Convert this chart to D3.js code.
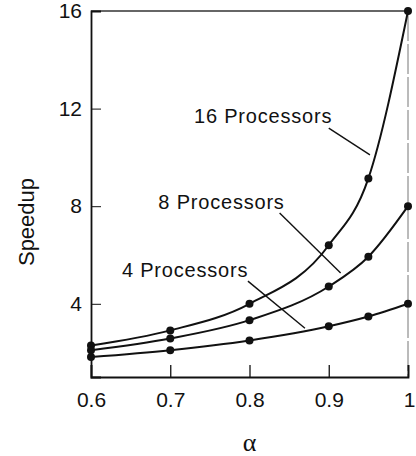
<!DOCTYPE html>
<html>
<head>
<meta charset="utf-8">
<script src="https://cdn.jsdelivr.net/npm/d3@7"></script>
<style>
  body { margin: 0; background: #fff; }
  text { font-family: "Liberation Sans", Arial, sans-serif; fill: #111; }
</style>
</head>
<body>
<svg id="chart" width="416" height="456"></svg>
<script>
// values
var alphas = [0.6, 0.7, 0.8, 0.9, 0.95, 1.0];
var speedup16 = [2.29, 2.91, 4.0, 6.4, 9.14, 16.0];
var speedup8 = [2.1, 2.58, 3.33, 4.71, 5.93, 8.0];
var speedup4 = [1.82, 2.1, 2.5, 3.08, 3.48, 4.0];
var seriesNames = ["16 Processors", "8 Processors", "4 Processors"];
var xTicks = [0.6, 0.7, 0.8, 0.9, 1];
var yTicks = [4, 8, 12, 16];
// label anchor [alpha, speedup] and leader line [[a0,s0],[a1,s1]]
var labelAt = [[0.730, 11.41], [0.685, 7.89], [0.639, 5.10]];
var leaders = [
  [[0.900, 11.2], [0.952, 10.1]],
  [[0.838, 7.72], [0.915, 5.26]],
  [[0.798, 4.93], [0.870, 3.0]]
];

var svg = d3.select("#chart");
var pLeft = 91, pRight = 408, pTop = 11, pBottom = 377;

var x = d3.scaleLinear().domain([0.6, 1]).range([pLeft, pRight]);
var y = d3.scaleLinear().domain([1, 16]).range([pBottom, pTop]);

var series = [speedup16, speedup8, speedup4].map(function(vals, i) {
  return { name: seriesNames[i], points: alphas.map(function(a, j) { return [a, vals[j]]; }) };
});

// frame: top and right are faint in the scan
svg.append("line").attr("x1", pLeft).attr("x2", pRight).attr("y1", pTop).attr("y2", pTop)
  .attr("stroke", "#333").attr("stroke-width", 1.3);
svg.append("line").attr("x1", pRight).attr("x2", pRight).attr("y1", pTop).attr("y2", pBottom)
  .attr("stroke", "#777").attr("stroke-width", 1).attr("stroke-dasharray", "30,3");

// axes with inward ticks
var xAxis = svg.append("g").attr("transform", "translate(0," + pBottom + ")")
  .call(d3.axisTop(x).tickValues(xTicks).tickSize(12).tickFormat(function(d) { return d === 1 ? "1" : d3.format(".1f")(d); }));
xAxis.select(".domain").attr("stroke", "#111").attr("stroke-width", 1.8);
xAxis.selectAll(".tick line").attr("stroke", "#111").attr("stroke-width", 1.3);
xAxis.selectAll(".tick text").attr("y", 30).attr("dy", 0)
  .style("font-size", "21px").attr("fill", "#111");
xAxis.select(".tick:last-of-type text").attr("x", 1);

var yAxis = svg.append("g").attr("transform", "translate(" + pLeft + ",0)")
  .call(d3.axisRight(y).tickValues(yTicks).tickSize(10));
yAxis.select(".domain").attr("stroke", "#111").attr("stroke-width", 1.8);
yAxis.selectAll(".tick line").attr("stroke", "#111").attr("stroke-width", 1);
yAxis.selectAll(".tick text").attr("x", -9).attr("text-anchor", "end")
  .style("font-size", "21px").attr("fill", "#111");

// axis titles
svg.append("text").attr("transform", "translate(34," + ((pTop + pBottom) / 2 + 28) + ") rotate(-90)")
  .attr("text-anchor", "middle").style("font-size", "22px").text("Speedup");
svg.append("text").attr("x", x(0.8)).attr("y", 451).attr("text-anchor", "middle")
  .style("font-family", "'Liberation Serif', serif").style("font-size", "26px").text("α");

// curves
var line = d3.line().x(function(d) { return x(d[0]); }).y(function(d) { return y(d[1]); })
  .curve(d3.curveMonotoneX);

var g = svg.append("g");
g.selectAll("path.curve").data(series).enter().append("path")
  .attr("class", "curve")
  .attr("d", function(d) { return line(d.points); })
  .attr("fill", "none").attr("stroke", "#111").attr("stroke-width", 2);

series.forEach(function(s) {
  g.selectAll(null).data(s.points).enter().append("circle")
    .attr("cx", function(d) { return x(d[0]); })
    .attr("cy", function(d) { return y(d[1]); })
    .attr("r", 4).attr("fill", "#111");
});

// labels and leader lines
svg.selectAll("text.lab").data(seriesNames).enter().append("text")
  .attr("class", "lab")
  .attr("x", function(d, i) { return x(labelAt[i][0]); })
  .attr("y", function(d, i) { return y(labelAt[i][1]); })
  .style("font-size", "20px").style("letter-spacing", "0.8px")
  .text(function(d) { return d; });

svg.selectAll("line.leader").data(leaders).enter().append("line")
  .attr("class", "leader")
  .attr("x1", function(d) { return x(d[0][0]); })
  .attr("y1", function(d) { return y(d[0][1]); })
  .attr("x2", function(d) { return x(d[1][0]); })
  .attr("y2", function(d) { return y(d[1][1]); })
  .attr("stroke", "#111").attr("stroke-width", 1.4);
</script>
</body>
</html>
